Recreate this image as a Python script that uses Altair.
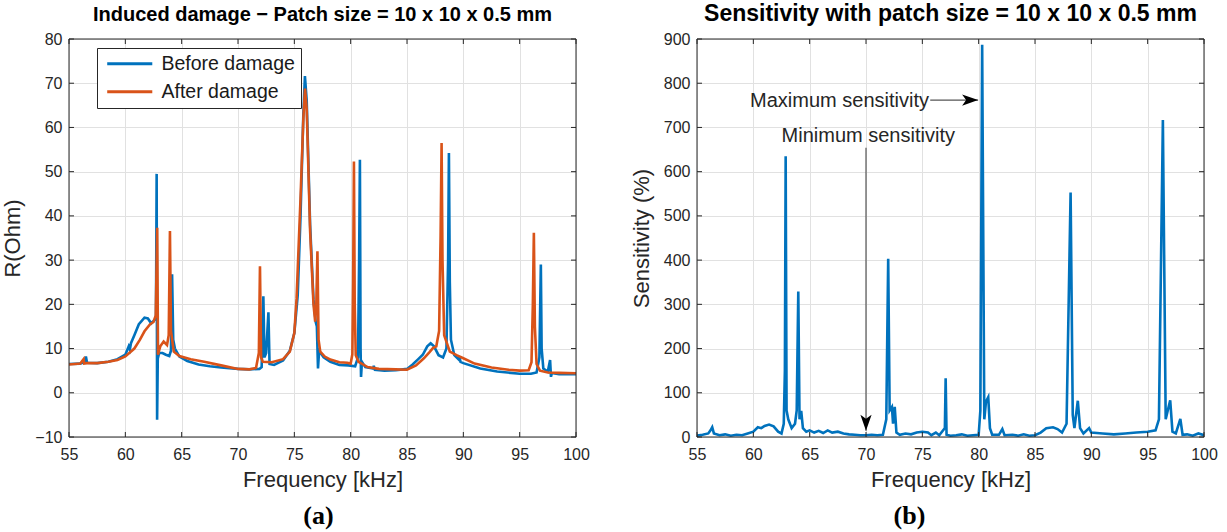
import altair as alt
import pandas as pd

# ---------------- data ----------------
freq_before = [55.0, 56.0, 56.4, 56.5, 56.6, 57.5, 58.5, 59.3, 60.0, 60.3, 60.4, 60.5, 60.8, 61.2, 61.7,
               62.0, 62.3, 62.6, 62.72, 62.78, 62.82, 62.88, 63.0, 63.3, 63.6, 63.9, 64.05, 64.15, 64.25,
               64.4, 64.8, 65.5, 66.5, 67.5, 68.5, 70.0, 71.0, 71.9, 72.1, 72.25, 72.35, 72.5, 72.7, 72.8,
               73.2, 74.0, 74.6, 75.0, 75.3, 75.55, 75.8, 75.94, 76.1, 76.4, 76.7, 76.9, 77.0, 77.1, 77.2,
               77.6, 78.2, 79.0, 79.8, 80.4, 80.65, 80.75, 80.82, 80.88, 80.92, 81.0, 81.3, 82.0, 82.05,
               82.15, 83.0, 84.0, 85.0, 85.5, 86.0, 86.4, 86.8, 87.1, 87.4, 87.8, 88.2, 88.5, 88.65, 88.72,
               88.8, 88.9, 89.2, 89.6, 89.65, 89.75, 90.0, 91.5, 93.0, 95.0, 96.0, 96.5, 96.75, 96.88, 96.95,
               97.1, 97.5, 97.7, 97.78, 97.85, 98.5, 100.0]
r_before = [6.5, 6.6, 7.0, 8.2, 6.8, 6.7, 7.0, 7.6, 8.6, 10.5, 9.8, 11.2, 13.0, 15.5, 17.0,
            16.8, 15.7, 16.5, 17.0, 49.5, -6.1, 7.7, 9.0, 9.0, 8.6, 8.3, 9.5, 26.8, 12.0,
            10.0, 8.2, 7.2, 6.4, 6.0, 5.7, 5.4, 5.3, 5.4, 5.8, 21.8, 8.0, 9.0, 18.2, 6.5,
            6.3, 7.3, 9.5, 13.5, 22.0, 40.0, 63.0, 71.6, 66.0, 38.0, 21.0, 16.0, 15.0, 5.5, 9.5,
            8.0, 7.0, 6.3, 6.2, 6.0, 8.0, 30.0, 52.7, 10.0, 3.6, 7.0, 5.8, 5.5, 6.1,
            5.2, 5.0, 5.1, 5.4, 6.4, 7.6, 8.6, 10.5, 11.2, 10.5, 8.5, 8.0, 10.0, 30.0, 54.2,
            25.0, 12.0, 8.5, 7.5, 8.2, 7.0, 6.7, 5.5, 4.8, 4.3, 4.3, 4.6, 8.0, 29.0, 10.0,
            5.5, 4.8, 7.4, 3.6, 4.5, 4.2, 4.2]

freq_after = [55.0, 56.0, 56.3, 56.35, 56.6, 57.5, 58.5, 59.3, 60.0, 60.8, 61.3, 61.7, 62.2, 62.5, 62.7,
              62.83, 62.9, 63.1, 63.4, 63.7, 63.85, 63.96, 64.05, 64.3, 64.8, 65.8, 67.0, 68.5, 70.0,
              71.0, 71.6, 71.85, 71.95, 72.05, 72.2, 73.0, 74.0, 74.6, 75.0, 75.2, 75.55, 75.8, 75.95,
              76.1, 76.4, 76.7, 76.85, 76.95, 77.05, 77.15, 77.3, 77.7, 78.2, 79.0, 79.7, 80.0, 80.15,
              80.22, 80.29, 80.36, 80.45, 80.7, 81.5, 82.5, 84.0, 85.0, 85.8, 86.5, 87.0, 87.3, 87.6,
              87.85, 87.98, 88.07, 88.15, 88.3, 88.8, 89.4, 90.0, 91.0, 92.5, 94.0, 95.0, 95.8, 96.05,
              96.17, 96.26, 96.35, 96.5, 96.8, 97.5, 98.5, 100.0]
r_after = [6.4, 6.6, 7.6, 6.6, 6.7, 6.7, 7.0, 7.4, 8.2, 10.0, 12.0, 13.9, 15.5, 16.0, 17.5,
           37.3, 8.6, 10.5, 11.6, 10.8, 13.0, 36.6, 14.0, 9.3, 8.3, 7.6, 7.0, 6.2, 5.4,
           5.3, 5.6, 9.0, 28.6, 8.0, 7.0, 6.9, 7.6, 9.3, 13.5, 21.4, 44.0, 62.0, 68.8,
           64.0, 36.6, 20.0, 16.1, 20.0, 32.0, 12.0, 9.3, 8.2, 7.5, 6.9, 6.8, 6.6, 8.7,
           25.0, 52.3, 20.0, 8.5, 7.0, 5.8, 5.4, 5.3, 5.2, 6.2, 7.8, 9.2, 10.1, 10.5,
           14.0, 35.0, 56.5, 30.0, 13.0, 9.3, 8.5, 7.8, 6.6, 5.7, 5.2, 5.0, 5.1, 6.9,
           20.0, 36.2, 15.0, 6.5, 5.0, 4.6, 4.5, 4.4]

freq_sens = [55.0, 55.5, 56.0, 56.2, 56.35, 56.5, 57.0, 57.5, 58.0, 58.5, 59.0, 59.5, 60.0, 60.4, 60.7,
             61.0, 61.4, 61.8, 62.2, 62.5, 62.7, 62.8, 62.87, 62.95, 63.1, 63.4, 63.7, 63.85, 63.99,
             64.1, 64.25, 64.4, 64.7, 65.0, 65.4, 65.8, 66.2, 66.6, 67.0, 67.5, 68.0, 68.5, 69.0, 69.5,
             70.0, 70.5, 71.0, 71.5, 71.8, 71.97, 72.1, 72.3, 72.4, 72.55, 72.7, 73.0, 73.5, 74.0, 74.5,
             75.0, 75.5, 75.8, 76.2, 76.5, 77.0, 77.07, 77.15, 77.5, 78.0, 78.5, 79.0, 79.5, 80.0,
             80.15, 80.31, 80.5, 80.65, 80.85, 81.0, 81.2, 81.8, 82.1, 82.3, 83.0, 83.5, 84.0, 84.5,
             85.0, 85.5, 86.0, 86.6, 87.0, 87.4, 87.8, 88.16, 88.35, 88.5, 88.8, 89.0, 89.3, 89.8,
             90.0, 91.0, 92.0, 93.0, 94.0, 95.0, 95.7, 96.0, 96.35, 96.6, 97.0, 97.2, 97.5, 97.9,
             98.1, 98.5, 99.0, 99.5, 100.0]
sens = [3, 5, 8, 15, 22, 8, 4, 6, 3, 5, 4, 8, 12, 22, 20,
        25, 28, 24, 12, 8, 30, 150, 635, 60, 40, 20, 30, 60, 329,
        40, 59, 20, 12, 15, 10, 14, 9, 15, 10, 12, 8, 6, 5, 4,
        4, 5, 4, 5, 40, 403, 60, 68, 30, 68, 10, 5, 8, 6, 10,
        12, 10, 4, 10, 4, 20, 133, 5, 3, 4, 6, 3, 4, 5,
        60, 887, 40, 80, 90, 20, 5, 5, 18, 4, 5, 3, 6, 3,
        4, 10, 20, 22, 18, 10, 30, 553, 50, 20, 82, 20, 8, 20,
        10, 8, 6, 8, 10, 12, 15, 40, 717, 40, 83, 12, 8, 41,
        5, 6, 3, 8, 4]

series_names = ["Before damage", "After damage"]
series_colors = ["#0072BD", "#D95319"]

x_ticks = [55, 60, 65, 70, 75, 80, 85, 90, 95, 100]
y_ticks_a = [-10, 0, 10, 20, 30, 40, 50, 60, 70, 80]
y_ticks_b = [0, 100, 200, 300, 400, 500, 600, 700, 800, 900]

annot_labels = ["Maximum sensitivity", "Minimum sensitivity"]
annot_f = [67.65, 70.2]
annot_s = [759, 681]
# arrows: (start f, start s, end f, end s)
arrow_max = [75.7, 762, 79.95, 762]
arrow_min = [70.0, 654, 70.0, 14]

# ---------------- styling ----------------
FONT = "Liberation Sans"
AX = "#262626"
W, H = 507, 398
TICK = 5


def xaxis():
    return alt.Axis(values=x_ticks, title="Frequency [kHz]", grid=True, ticks=False, domain=False,
                    labelFontSize=16, titleFontSize=22, titleFontWeight="normal", labelPadding=9,
                    titlePadding=7, labelColor=AX, titleColor=AX, gridColor="#e1e1e1", labelFont=FONT,
                    titleFont=FONT, labelFlush=False)


def yaxis(vals, title):
    return alt.Axis(values=vals, title=title, grid=True, ticks=False, domain=False,
                    labelFontSize=16, titleFontSize=22, titleFontWeight="normal", labelPadding=7,
                    titlePadding=10, labelColor=AX, titleColor=AX, gridColor="#e1e1e1", labelFont=FONT,
                    titleFont=FONT, labelFlush=False)


def frame_layers(xs, ys, xsc, ysc, yax):
    """Box around the plot plus MATLAB-like inward ticks on all four sides."""
    fx = alt.X("v:Q", scale=xsc, axis=xaxis())
    fy = alt.Y("v:Q", scale=ysc, axis=yax)
    dx = pd.DataFrame({"v": xs})
    dy = pd.DataFrame({"v": ys})
    t_bottom = alt.Chart(dx).mark_rule(color=AX, strokeWidth=1).encode(
        x=fx, y=alt.value(H), y2=alt.value(H - TICK))
    t_top = alt.Chart(dx).mark_rule(color=AX, strokeWidth=1).encode(
        x=fx, y=alt.value(0), y2=alt.value(TICK))
    t_left = alt.Chart(dy).mark_rule(color=AX, strokeWidth=1).encode(
        y=fy, x=alt.value(0), x2=alt.value(TICK))
    t_right = alt.Chart(dy).mark_rule(color=AX, strokeWidth=1).encode(
        y=fy, x=alt.value(W), x2=alt.value(W - TICK))
    box = alt.Chart(pd.DataFrame({"v": [0]})).mark_rect(
        fill="transparent", stroke=AX, strokeWidth=1).encode(
        x=alt.value(0), x2=alt.value(W), y=alt.value(0), y2=alt.value(H))
    return [t_bottom, t_top, t_left, t_right, box]


# ---------------- left panel ----------------
xsc = alt.Scale(domain=[55, 100], nice=False)
ysc_a = alt.Scale(domain=[-10, 80], nice=False)
yax_a = yaxis(y_ticks_a, "R(Ohm)")

df_a = pd.concat([
    pd.DataFrame({"f": freq_before, "R": r_before, "series": series_names[0], "k": 0}),
    pd.DataFrame({"f": freq_after, "R": r_after, "series": series_names[1], "k": 1}),
], ignore_index=True)

lines_a = alt.Chart(df_a).mark_line(strokeWidth=2.6, clip=True).encode(
    x=alt.X("f:Q", scale=xsc, axis=xaxis()),
    y=alt.Y("R:Q", scale=ysc_a, axis=yax_a),
    color=alt.Color("series:N", scale=alt.Scale(domain=series_names, range=series_colors),
                    legend=alt.Legend(orient="none", legendX=28, legendY=9, title=None,
                                      strokeColor=AX, fillColor="white", padding=6,
                                      symbolType="M -4 0 L 4 0", symbolSize=127,
                                      symbolStrokeWidth=3, symbolOffset=17,
                                      labelFontSize=19.5, labelFont=FONT, labelColor="#1a1a1a",
                                      rowPadding=7, labelOffset=22)),
    order="k:Q",
)

lab_a = alt.Chart(pd.DataFrame({"t": ["(a)"]})).mark_text(
    font="Liberation Serif", fontSize=26, fontWeight="bold", color="black", baseline="middle"
).encode(x=alt.value(W / 2 - 4), y=alt.value(H + 79), text="t:N")

left = alt.layer(lines_a, *frame_layers(x_ticks, y_ticks_a, xsc, ysc_a, yax_a), lab_a).properties(
    width=W, height=H,
    title=alt.TitleParams("Induced damage \u2212 Patch size = 10 x 10 x 0.5 mm", fontSize=20,
                          fontWeight="bold", font=FONT, color="black", offset=6, anchor="middle"))

# ---------------- right panel ----------------
ysc_b = alt.Scale(domain=[0, 900], nice=False)
yax_b = yaxis(y_ticks_b, "Sensitivity (%)")
df_b = pd.DataFrame({"f": freq_sens, "S": sens})
x_b = alt.X("f:Q", scale=xsc, axis=xaxis())
y_b = alt.Y("S:Q", scale=ysc_b, axis=yax_b)

line_b = alt.Chart(df_b).mark_line(strokeWidth=2.6, color="#0072BD", clip=True).encode(x=x_b, y=y_b)

df_txt = pd.DataFrame({"f": annot_f, "S": annot_s, "t": annot_labels})
txt_b = alt.Chart(df_txt).mark_text(fontSize=20, font=FONT, color="#262626", baseline="middle").encode(
    x=alt.X("f:Q", scale=xsc, axis=xaxis()), y=alt.Y("S:Q", scale=ysc_b, axis=yax_b), text="t:N")

df_arr = pd.DataFrame({"f": [arrow_max[0], arrow_min[0]], "S": [arrow_max[1], arrow_min[1]],
                       "f2": [arrow_max[2], arrow_min[2]], "S2": [arrow_max[3], arrow_min[3]]})
rule_b = alt.Chart(df_arr).mark_rule(color="#555555", strokeWidth=1.2).encode(
    x=alt.X("f:Q", scale=xsc, axis=xaxis()), y=alt.Y("S:Q", scale=ysc_b, axis=yax_b),
    x2="f2:Q", y2="S2:Q")

df_head_r = pd.DataFrame({"f": [arrow_max[2]], "S": [arrow_max[3]]})
head_r = alt.Chart(df_head_r).mark_point(
    shape="M -2 -0.7 L 0 0 L -2 0.7 L -1.5 0 Z", size=256, filled=True, fill="black", color="black",
    opacity=1, strokeWidth=0).encode(
    x=alt.X("f:Q", scale=xsc, axis=xaxis()), y=alt.Y("S:Q", scale=ysc_b, axis=yax_b))
df_head_d = pd.DataFrame({"f": [arrow_min[2]], "S": [arrow_min[3]]})
head_d = alt.Chart(df_head_d).mark_point(
    shape="M -0.7 -2 L 0 0 L 0.7 -2 L 0 -1.5 Z", size=256, filled=True, fill="black", color="black",
    opacity=1, strokeWidth=0).encode(
    x=alt.X("f:Q", scale=xsc, axis=xaxis()), y=alt.Y("S:Q", scale=ysc_b, axis=yax_b))

lab_b = alt.Chart(pd.DataFrame({"t": ["(b)"]})).mark_text(
    font="Liberation Serif", fontSize=26, fontWeight="bold", color="black", baseline="middle"
).encode(x=alt.value(W / 2 - 41), y=alt.value(H + 79), text="t:N")

right = alt.layer(line_b, *frame_layers(x_ticks, y_ticks_b, xsc, ysc_b, yax_b),
                  rule_b, head_r, head_d, txt_b, lab_b).properties(
    width=W, height=H,
    title=alt.TitleParams("Sensitivity with patch size = 10 x 10 x 0.5 mm", fontSize=23,
                          fontWeight="bold", font=FONT, color="black", offset=5, anchor="middle"))

chart = alt.hconcat(left, right, spacing=39).resolve_scale(x="independent", y="independent").properties(
    padding={"left": 1, "top": 2, "right": 5, "bottom": 0}
).configure_view(stroke=None).configure(background="white")

chart.save("out.html", embed_options={"renderer": "svg", "actions": False})
